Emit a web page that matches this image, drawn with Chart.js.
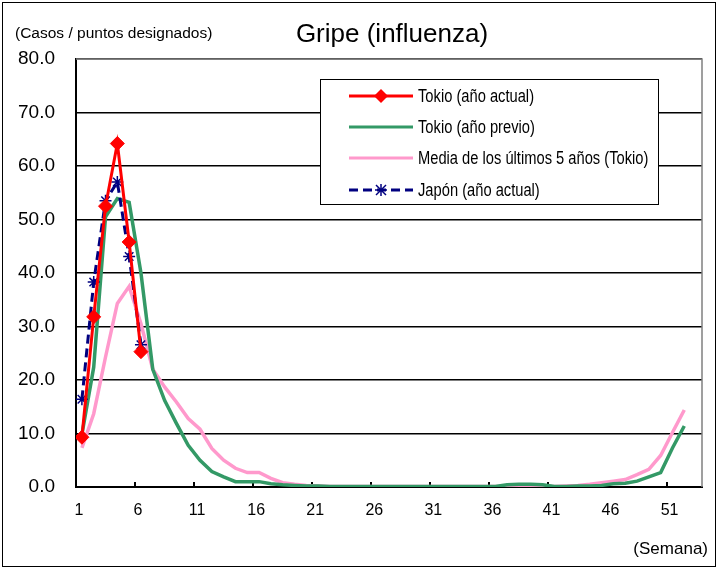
<!DOCTYPE html>
<html>
<head>
<meta charset="utf-8">
<script src="https://cdn.jsdelivr.net/npm/chart.js@4.4.0/dist/chart.umd.min.js"></script>
<style>
    body { margin: 0; background: #fff; font-family: Arial, "Liberation Sans", sans-serif; }
    #wrap { position: relative; width: 719px; height: 569px; overflow: hidden; }
    #frame { position: absolute; left: 2px; top: 2px; width: 714px; height: 565px; border: 1.5px solid #000; box-sizing: border-box; }
    #chart { position: absolute; left: 0; top: 0; }
    .txt { position: absolute; white-space: nowrap; color: #000; line-height: 1; }
    #title { left: 392px; top: 20px; font-size: 26px; transform: translateX(-50%); }
    #unit { left: 15px; top: 25px; font-size: 15.5px; }
    #semana { right: 11px; top: 540px; font-size: 17px; }
    #legend { position: absolute; left: 320px; top: 79px; width: 339px; height: 126px; border: 1.5px solid #000; box-sizing: border-box; background: #fff; }
    .row { position: absolute; left: 28px; height: 20px; display: flex; align-items: center; white-space: nowrap; }
    .row span { margin-left: 5px; font-size: 17.5px; display: inline-block; transform: scaleX(0.84); transform-origin: left center; }
</style>
</head>
<body>
<div id="wrap">
    <canvas id="chart" width="719" height="569"></canvas>
    <div id="frame"></div>
    <div class="txt" id="title">Gripe (influenza)</div>
    <div class="txt" id="unit">(Casos / puntos designados)</div>
    <div class="txt" id="semana">(Semana)</div>
    <div id="legend">
        <div class="row" style="top:6px">
            <svg width="64" height="16"><line x1="0" y1="8" x2="64" y2="8" stroke="#ff0000" stroke-width="3"/><polygon points="32,1 39,8 32,15 25,8" fill="#ff0000"/></svg>
            <span>Tokio (año actual)</span>
        </div>
        <div class="row" style="top:37px">
            <svg width="64" height="16"><line x1="0" y1="8" x2="64" y2="8" stroke="#339966" stroke-width="3"/></svg>
            <span>Tokio (año previo)</span>
        </div>
        <div class="row" style="top:68px">
            <svg width="64" height="16"><line x1="0" y1="8" x2="64" y2="8" stroke="#ff99cc" stroke-width="3"/></svg>
            <span>Media de los últimos 5 años (Tokio)</span>
        </div>
        <div class="row" style="top:100px">
            <svg width="64" height="16"><line x1="0" y1="8" x2="64" y2="8" stroke="#000080" stroke-width="3" stroke-dasharray="9,5"/>
                <g stroke="#000080" stroke-width="1.5"><line x1="27" y1="3" x2="37" y2="13"/><line x1="37" y1="3" x2="27" y2="13"/><line x1="32" y1="2" x2="32" y2="14"/><line x1="26" y1="8" x2="38" y2="8"/></g></svg>
            <span>Japón (año actual)</span>
        </div>
    </div>
</div>
<script>
// Weeks (categories)
const weeks = [1, 2, 3, 4, 5, 6, 7, 8, 9, 10, 11, 12, 13, 14, 15, 16, 17, 18, 19, 20,
    21, 22, 23, 24, 25, 26, 27, 28, 29, 30, 31, 32, 33, 34, 35, 36, 37, 38, 39, 40,
    41, 42, 43, 44, 45, 46, 47, 48, 49, 50, 51, 52];

// Tokio, current year (only the first weeks reported)
const tokyoCurrent = [9.3, 31.8, 52.5, 64.2, 45.8, 25.3];

// Japan, current year
const japanCurrent = [16.4, 38.3, 53.5, 57.0, 43.1, 26.6];

// Tokio, previous year
const tokyoPrevious = [
    9.8, 22.4, 50.5, 53.9, 53.2, 40.0, 22.0, 16.2, 11.9, 7.8,
    5.0, 2.9, 1.9, 1.0, 1.0, 1.0, 0.6, 0.4, 0.3, 0.2,
    0.2, 0.1, 0.1, 0.1, 0.1, 0.1, 0.1, 0.1, 0.1, 0.1,
    0.1, 0.1, 0.1, 0.1, 0.1, 0.1, 0.4, 0.5, 0.5, 0.4,
    0.1, 0.1, 0.2, 0.2, 0.3, 0.6, 0.7, 1.1, 1.9, 2.7,
    7.3, 11.4
];

// Tokio, average of the last 5 years
const tokyoAverage = [
    7.3, 13.7, 24.3, 34.3, 37.5, 30.5, 22.0, 18.7, 15.9, 12.8,
    10.8, 7.2, 5.0, 3.5, 2.7, 2.7, 1.6, 0.8, 0.5, 0.3,
    0.2, 0.1, 0.1, 0.1, 0.1, 0.1, 0.1, 0.1, 0.1, 0.1,
    0.1, 0.1, 0.1, 0.1, 0.1, 0.1, 0.1, 0.1, 0.1, 0.1,
    0.1, 0.2, 0.3, 0.5, 0.8, 1.1, 1.4, 2.3, 3.3, 5.9,
    10.2, 14.4
];

// Axis tick labels
const xTickLabels = [1, 6, 11, 16, 21, 26, 31, 36, 41, 46, 51];
const yTickLabels = [0, 10, 20, 30, 40, 50, 60, 70, 80];

function toPoints(values) {
    return values.map((v, i) => ({ x: weeks[i], y: v }));
}

// Grey top/right frame and inward tick marks on the week axis
const plotFrame = {
    id: 'plotFrame',
    beforeDatasetsDraw(chart) {
        const { ctx, chartArea: a, scales } = chart;
        ctx.save();
        ctx.strokeStyle = '#808080';
        ctx.lineWidth = 1.5;
        ctx.beginPath();
        ctx.moveTo(a.left, a.top);
        ctx.lineTo(a.right, a.top);
        ctx.lineTo(a.right, a.bottom);
        ctx.stroke();

        ctx.strokeStyle = '#000';
        ctx.lineWidth = 2;
        scales.x.ticks.forEach(t => {
            const px = Math.round(scales.x.getPixelForValue(t.value));
            ctx.beginPath();
            ctx.moveTo(px, a.bottom);
            ctx.lineTo(px, a.bottom - 5);
            ctx.stroke();
        });
        ctx.restore();
    }
};

const ctx = document.getElementById('chart').getContext('2d');
new Chart(ctx, {
    type: 'line',
    data: {
        datasets: [
            {
                label: 'Tokio (año actual)',
                data: toPoints(tokyoCurrent),
                borderColor: '#ff0000',
                backgroundColor: '#ff0000',
                borderWidth: 3,
                pointStyle: 'rectRot',
                pointRadius: 7,
                pointBorderWidth: 1
            },
            {
                label: 'Japón (año actual)',
                data: toPoints(japanCurrent),
                borderColor: '#000080',
                backgroundColor: '#000080',
                borderWidth: 3,
                borderDash: [9, 5],
                pointStyle: 'star',
                pointRadius: 6,
                pointBorderWidth: 1.5
            },
            {
                label: 'Tokio (año previo)',
                data: toPoints(tokyoPrevious),
                borderColor: '#339966',
                borderWidth: 3.5,
                pointRadius: 0
            },
            {
                label: 'Media de los últimos 5 años (Tokio)',
                data: toPoints(tokyoAverage),
                borderColor: '#ff99cc',
                borderWidth: 3.5,
                pointRadius: 0
            }
        ]
    },
    options: {
        responsive: false,
        animation: false,
        events: [],
        layout: { padding: { left: 6, top: 59, right: 17, bottom: 42 } },
        plugins: {
            legend: { display: false },
            tooltip: { enabled: false }
        },
        elements: { line: { tension: 0 } },
        scales: {
            x: {
                type: 'linear',
                min: 0.5,
                max: 53.5,
                afterBuildTicks: s => { s.ticks = xTickLabels.map(v => ({ value: v - 0.5 })); },
                afterFit: s => { s.height = 40; },
                grid: { display: false },
                border: { color: '#000', width: 2 },
                ticks: {
                    padding: 6,
                    color: '#000',
                    maxRotation: 0,
                    labelOffset: 3,
                    font: { family: 'Arial, "Liberation Sans", sans-serif', size: 16 },
                    callback: (v, i) => xTickLabels[i]
                }
            },
            y: {
                min: 0,
                max: 80,
                afterBuildTicks: s => { s.ticks = yTickLabels.map(v => ({ value: v })); },
                afterFit: s => { s.width = 70; },
                grid: { color: '#000', lineWidth: 1.5, drawTicks: false },
                border: { color: '#000', width: 2 },
                ticks: {
                    padding: 21,
                    color: '#000',
                    font: { family: 'Arial, "Liberation Sans", sans-serif', size: 19 },
                    callback: v => v.toFixed(1)
                }
            }
        }
    },
    plugins: [plotFrame]
});
</script>
</body>
</html>
